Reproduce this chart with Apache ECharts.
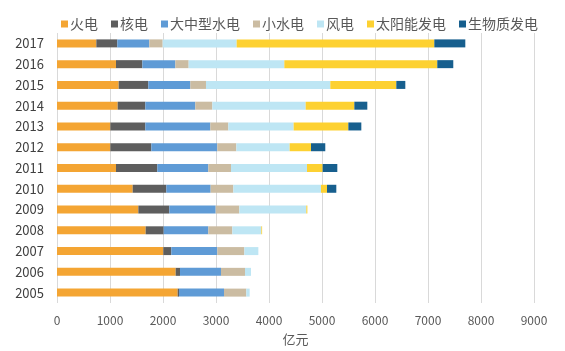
<!DOCTYPE html>
<html>
<head>
<meta charset="utf-8">
<script src="https://cdn.jsdelivr.net/npm/echarts@6/dist/echarts.min.js"></script>
<style>
  html, body { margin: 0; padding: 0; background: #fff; }
  #chart { width: 565px; height: 351px; }
</style>
</head>
<body>
<div id="chart"></div>
<script>
// years, bottom to top
const years = ['2005', '2006', '2007', '2008', '2009', '2010', '2011', '2012', '2013', '2014', '2015', '2016', '2017'];

const thermal   = [2277, 2239, 2006, 1673, 1535, 1428, 1113, 1006, 1006, 1145, 1164, 1113, 742];
const nuclear   = [25, 82, 151, 340, 584, 635, 780, 774, 661, 522, 559, 497, 396];
const bigHydro  = [849, 773, 868, 842, 875, 836, 962, 1245, 1226, 943, 793, 623, 604];
const smallHydro = [421, 453, 510, 453, 446, 428, 428, 359, 340, 321, 295, 251, 252];
const wind      = [63, 113, 264, 547, 1264, 1654, 1434, 1006, 1232, 1761, 2346, 1805, 1396];
const solar     = [0, 0, 0, 15, 20, 113, 295, 402, 1032, 918, 1245, 2886, 3729];
const biomass   = [0, 0, 0, 0, 0, 176, 277, 270, 245, 245, 170, 302, 585];

const names = ['火电', '核电', '大中型水电', '小水电', '风电', '太阳能发电', '生物质发电'];
const colors = ['#F4A533', '#5E5E5E', '#5F9BD6', '#CBBCA2', '#BEE6F4', '#FDD132', '#175F8E'];
const values = [thermal, nuclear, bigHydro, smallHydro, wind, solar, biomass];

const font = '"Noto Sans CJK SC", "Noto Sans", sans-serif';

const chart = echarts.init(document.getElementById('chart'));

chart.setOption({
    animation: false,
    textStyle: { fontFamily: font },
    legend: {
        top: 12,
        left: 56,
        itemWidth: 7,
        itemHeight: 7,
        itemGap: 13,
        icon: 'rect',
        textStyle: { fontSize: 14, color: '#595959', padding: [0, 0, 0, -3] },
        data: names,
    },
    grid: {
        left: 57,
        right: 31,
        top: 33,
        bottom: 45,
    },
    xAxis: {
        type: 'value',
        min: 0,
        max: 9000,
        interval: 1000,
        name: '亿元',
        nameLocation: 'middle',
        nameGap: 30,
        nameTextStyle: { fontSize: 13, color: '#595959' },
        axisLine: { show: false },
        axisTick: { show: false },
        axisLabel: { fontSize: 12, color: '#595959', margin: 11, formatter: v => String(v) },
        splitLine: { lineStyle: { color: '#D9D9D9', width: 1 } },
    },
    yAxis: {
        type: 'category',
        data: years,
        axisLine: { show: false },
        axisTick: { show: false },
        axisLabel: { fontSize: 13, color: '#404040', margin: 13 },
    },
    series: names.map((name, i) => ({
        name: name,
        type: 'bar',
        stack: 'total',
        barWidth: 8,
        itemStyle: { color: colors[i] },
        data: values[i],
    })),
});
</script>
</body>
</html>
